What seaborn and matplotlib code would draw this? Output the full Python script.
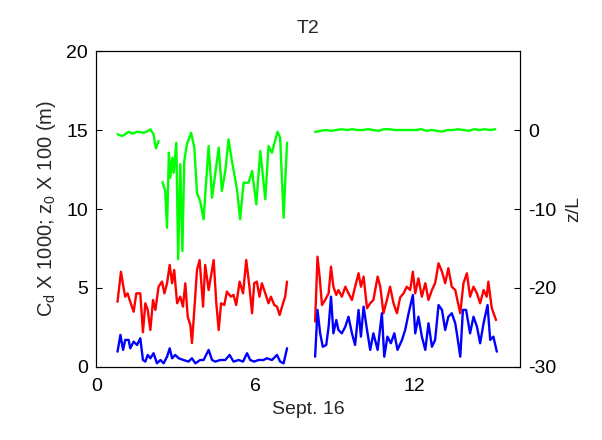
import pandas as pd
import matplotlib
matplotlib.use("Agg")
import matplotlib.pyplot as plt
import seaborn as sns

# === Data (time in days of Sept. 16)
# red: Cd x 1000
red_t1 = [0.80, 0.93, 1.01, 1.09, 1.18, 1.28, 1.41, 1.51, 1.66, 1.76, 1.85, 1.94, 2.04, 2.14, 2.23,
          2.35, 2.48, 2.57, 2.67, 2.77, 2.86, 2.94, 3.05, 3.17, 3.27, 3.36, 3.45, 3.55, 3.61, 3.70,
          3.80, 3.90, 4.03, 4.11, 4.24, 4.43, 4.53, 4.62, 4.71, 4.83, 4.93, 5.08, 5.18, 5.28, 5.41,
          5.54, 5.66, 5.78, 5.88, 5.96, 6.06, 6.16, 6.25, 6.38, 6.50, 6.59, 6.72, 6.82, 6.92, 7.05,
          7.13, 7.20]
red_v1 = [4.13, 6.03, 5.19, 4.45, 4.66, 4.13, 3.50, 4.66, 4.66, 2.20, 4.03, 3.61, 2.34, 4.24, 3.61,
          5.08, 5.40, 4.66, 5.30, 6.46, 5.30, 6.14, 4.03, 4.45, 3.82, 5.30, 3.18, 2.66, 1.51, 3.61,
          6.14, 6.77, 3.82, 6.46, 4.87, 6.77, 4.03, 2.34, 4.03, 3.92, 4.77, 4.45, 4.56, 3.92, 5.40,
          4.66, 6.77, 5.08, 3.40, 5.30, 5.40, 4.45, 5.30, 4.66, 4.03, 4.45, 3.92, 3.82, 3.29, 4.03,
          4.45, 5.40]
red_t2 = [8.26, 8.35, 8.43, 8.52, 8.64, 8.77, 8.86, 8.95, 9.06, 9.14, 9.27, 9.40, 9.52, 9.65, 9.77,
          9.90, 9.99, 10.09, 10.22, 10.34, 10.46, 10.62, 10.72, 10.84, 10.97, 11.09, 11.22, 11.35,
          11.47, 11.60, 11.72, 11.85, 11.95, 12.04, 12.16, 12.29, 12.42, 12.54, 12.67, 12.79, 12.92,
          13.05, 13.17, 13.29, 13.42, 13.55, 13.63, 13.74, 13.86, 13.99, 14.11, 14.24, 14.37, 14.49,
          14.62, 14.74, 14.80, 14.93, 15.09]
red_v2 = [2.87, 6.98, 5.72, 3.92, 4.24, 4.66, 6.35, 5.08, 4.56, 4.87, 4.45, 5.08, 4.66, 4.24, 5.08,
          5.93, 5.08, 5.72, 3.72, 4.03, 4.24, 5.72, 5.08, 3.40, 4.24, 5.08, 4.03, 3.40,
          4.40, 4.66, 5.08, 4.87, 6.03, 4.66, 5.61, 4.45, 5.30, 4.24, 4.87, 5.30, 6.56,
          6.03, 5.30, 6.25, 5.08, 4.87, 4.24, 3.40, 5.30, 5.93, 4.45, 5.08, 4.66, 4.03,
          4.87, 4.45, 5.40, 3.72, 2.97]

# blue: z0 x 100 (m)
blue_t1 = [0.80, 0.91, 1.01, 1.09, 1.22, 1.28, 1.41, 1.54, 1.66, 1.76, 1.85, 1.94, 2.04, 2.16, 2.29,
           2.42, 2.54, 2.67, 2.77, 2.86, 2.98, 3.11, 3.29, 3.48, 3.61, 3.74, 3.92, 4.05, 4.24, 4.37,
           4.49, 4.68, 4.87, 5.03, 5.18, 5.37, 5.54, 5.69, 5.81, 5.96, 6.12, 6.31, 6.44, 6.63, 6.82,
           6.94, 7.07, 7.20]
blue_v1 = [0.97, 2.03, 1.08, 1.71, 1.71, 1.18, 1.60, 1.39, 1.82, 0.44, 0.34, 0.76, 0.55, 0.87, 0.23,
           0.44, 0.23, 0.65, 1.18, 0.55, 0.76, 0.55, 0.44, 0.34, 0.55, 0.23, 0.44, 0.44, 1.08, 0.44,
           0.34, 0.44, 0.44, 0.76, 0.34, 0.44, 0.34, 0.87, 0.44, 0.34, 0.44, 0.44, 0.55, 0.44, 0.76,
           0.34, 0.23, 1.18]
blue_t2 = [8.26, 8.35, 8.45, 8.55, 8.68, 8.77, 8.86, 8.95, 9.06, 9.14, 9.27, 9.40, 9.52, 9.65, 9.77,
           9.90, 9.99, 10.09, 10.22, 10.34, 10.46, 10.62, 10.78, 10.87, 10.99, 11.12, 11.25, 11.37,
           11.54, 11.66, 11.79, 11.95, 12.04, 12.16, 12.29, 12.42, 12.54, 12.67, 12.79, 12.92, 13.05,
           13.17, 13.29, 13.42, 13.55, 13.63, 13.74, 13.84, 13.96, 14.11, 14.24, 14.37, 14.49, 14.62,
           14.77, 14.87, 14.99, 15.12]
blue_v2 = [0.65, 3.61, 2.13, 1.28, 1.39, 2.55, 4.45, 2.13, 2.97, 2.34, 2.13, 2.55, 3.18, 2.13, 1.39,
           3.61, 1.92, 3.82, 2.34, 1.08, 2.13, 1.08, 3.40, 0.65, 1.92, 1.50, 2.13, 1.08,
           1.71, 2.34, 3.40, 4.56, 2.13, 3.18, 1.92, 1.08, 2.77, 1.28, 1.71, 3.92, 3.61,
           2.34, 3.18, 3.40, 2.77, 1.92, 0.65, 3.61, 3.61, 2.13, 3.18, 2.55, 1.50, 2.77,
           3.92, 1.71, 1.92, 0.97]

# green: z/L (right axis)
green_t1a = [0.80, 0.97, 1.09, 1.22, 1.35, 1.54, 1.78, 1.89, 2.04, 2.16, 2.25, 2.35]
green_v1a = [-0.54, -0.76, -0.54, -0.22, -0.47, -0.22, -0.34, -0.22, 0.09, -0.54, -2.32, -1.39]
green_t1b = [2.50, 2.60, 2.67, 2.74, 2.79, 2.87, 2.92, 3.02, 3.09, 3.17, 3.25, 3.32, 3.42, 3.58,
             3.70, 3.80, 3.92, 4.05, 4.24, 4.37, 4.62, 4.74, 4.87, 4.99, 5.12, 5.31, 5.43, 5.56,
             5.75, 5.88, 6.04, 6.19, 6.38, 6.50, 6.63, 6.84, 6.94, 7.07, 7.20]
green_v1b = [-6.58, -7.72, -12.37, -2.87, -6.04, -3.51, -5.41, -1.61, -16.37, -4.34, -15.32, -3.92,
             -1.81, -0.34, -2.24, -7.94, -8.99, -11.30, -2.03, -8.57, -2.24, -7.72, -5.19, -1.18,
             -3.92, -7.51, -11.30, -6.67, -6.67, -5.19, -9.41, -2.66, -8.77, -2.03, -2.87, -0.22,
             -0.97, -11.10, -1.61]
green_t2 = [8.26, 8.46, 8.66, 8.86, 9.06, 9.26, 9.46, 9.66, 9.86, 10.06, 10.26, 10.46, 10.66, 10.86,
            11.06, 11.26, 11.46, 11.66, 11.86, 12.06, 12.26, 12.46, 12.66, 12.86, 13.06, 13.26,
            13.46, 13.66, 13.86, 14.06, 14.26, 14.46, 14.66, 14.86, 15.06]
green_v2 = [-0.25, -0.1, 0.0, -0.1, 0.0, 0.1, 0.0, 0.1, 0.0, 0.0, 0.1, 0.0, -0.1, 0.1, 0.1, 0.0,
            0.0, 0.0, 0.0, 0.0, 0.1, -0.1, 0.0, -0.1, -0.2, 0.0, 0.0, 0.1, 0.0, -0.1, 0.1, 0.0,
            0.1, 0.0, 0.1]


def frame(pieces):
    rows = []
    for k, (t, v) in enumerate(pieces):
        rows += [(k, a, b) for a, b in zip(t, v)]
    return pd.DataFrame(rows, columns=["piece", "t", "v"])


red = frame([(red_t1, red_v1), (red_t2, red_v2)])
blue = frame([(blue_t1, blue_v1), (blue_t2, blue_v2)])
green = frame([(green_t1a, green_v1a), (green_t1b, green_v1b), (green_t2, green_v2)])

# === Style
sns.set_style("white")
plt.rcParams["font.family"] = ["Liberation Sans", "DejaVu Sans"]
plt.rcParams["mathtext.fontset"] = "custom"
plt.rcParams["mathtext.rm"] = "Liberation Sans"
plt.rcParams["mathtext.it"] = "Liberation Sans"
plt.rcParams["axes.unicode_minus"] = False

fig, ax = plt.subplots(figsize=(6.02, 4.40), dpi=100)
fig.subplots_adjust(left=0.16, right=0.864, bottom=0.166, top=0.884)
ax2 = ax.twinx()

lw = 1.7
sns.lineplot(data=red, x="t", y="v", units="piece", estimator=None, sort=False,
             color=(1, 0, 0), lw=lw, ax=ax)
sns.lineplot(data=blue, x="t", y="v", units="piece", estimator=None, sort=False,
             color=(0, 0, 1), lw=lw, ax=ax)
sns.lineplot(data=green, x="t", y="v", units="piece", estimator=None, sort=False,
             color=(0, 1, 0), lw=lw, ax=ax2)

ax.set_xlim(0, 16)
ax.set_ylim(0, 20)
ax.set_xticks([0, 6, 12])
ax.set_yticks([0, 5, 10, 15, 20])
ax2.set_ylim(-30, 10)
ax2.set_yticks([-30, -20, -10, 0])

ax.set_xlabel("Sept. 16", fontsize=14, labelpad=4)
ax.set_ylabel(r"C$_\mathrm{d}$ X 1000; z$_\mathrm{0}$ X 100 (m)", fontsize=14.5, labelpad=6)
ax2.set_ylabel("z/L", fontsize=14, labelpad=6)
ax.set_title("T2", fontsize=14, pad=13)

for a in (ax, ax2):
    a.tick_params(direction="in", length=4, width=0.8, labelsize=14, colors="black")
    for s in a.spines.values():
        s.set_color("black")
        s.set_linewidth(0.8)
ax.tick_params(axis="y", pad=6)
ax.tick_params(axis="x", pad=8)
ax2.tick_params(axis="y", pad=6)

plt.savefig("out.png", dpi=100)
